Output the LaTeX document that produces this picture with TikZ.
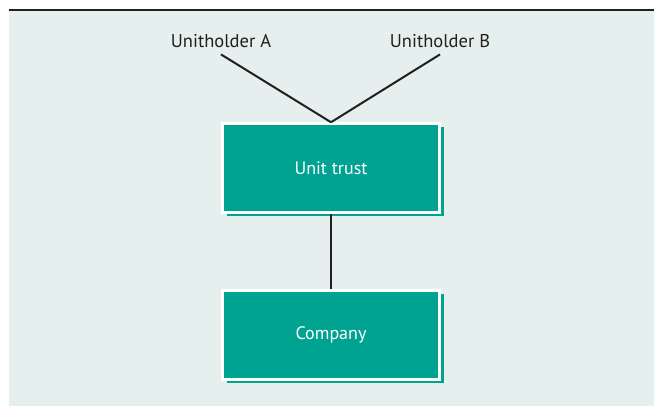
\documentclass[tikz,border=0pt]{standalone}
\usepackage{fontspec}
\setmainfont{PT Sans}
\usetikzlibrary{shadows}
\definecolor{trustgreen}{HTML}{00A291}
\definecolor{panelbg}{HTML}{E5EFED}
\definecolor{inkline}{HTML}{231F20}
\begin{document}
\begin{tikzpicture}[x=1pt, y=1pt]
\tikzstyle{holder} = [font=\fontsize{18.5}{22}\selectfont, text=inkline, inner sep=6pt, anchor=base]
\tikzstyle{entity} = [rectangle, fill=trustgreen, draw=white, line width=2.5pt, minimum width=217pt, minimum height=89pt, text=white, font=\fontsize{18}{22}\selectfont, copy shadow={shadow xshift=4pt, shadow yshift=-4pt, fill=trustgreen, draw=none}]
\tikzstyle{link} = [draw=inkline, line width=2pt]
\useasboundingbox (0,0) rectangle (654,406);
\fill[panelbg] (9,0) rectangle (654,396);
\draw[inkline, line width=1.3pt] (9,396) -- (654,396);
\node[holder] (holderA) at (221,358) {Unitholder A};
\node[holder] (holderB) at (440,358) {Unitholder B};
\node[entity] (trust) at (331,238) {Unit trust};
\node[entity] (company) at (331,71) {Company};
\draw[link] (holderA.south) -- (trust.north);
\draw[link] (holderB.south) -- (trust.north);
\draw[link] (trust) -- (company);
\end{tikzpicture}
\end{document}
